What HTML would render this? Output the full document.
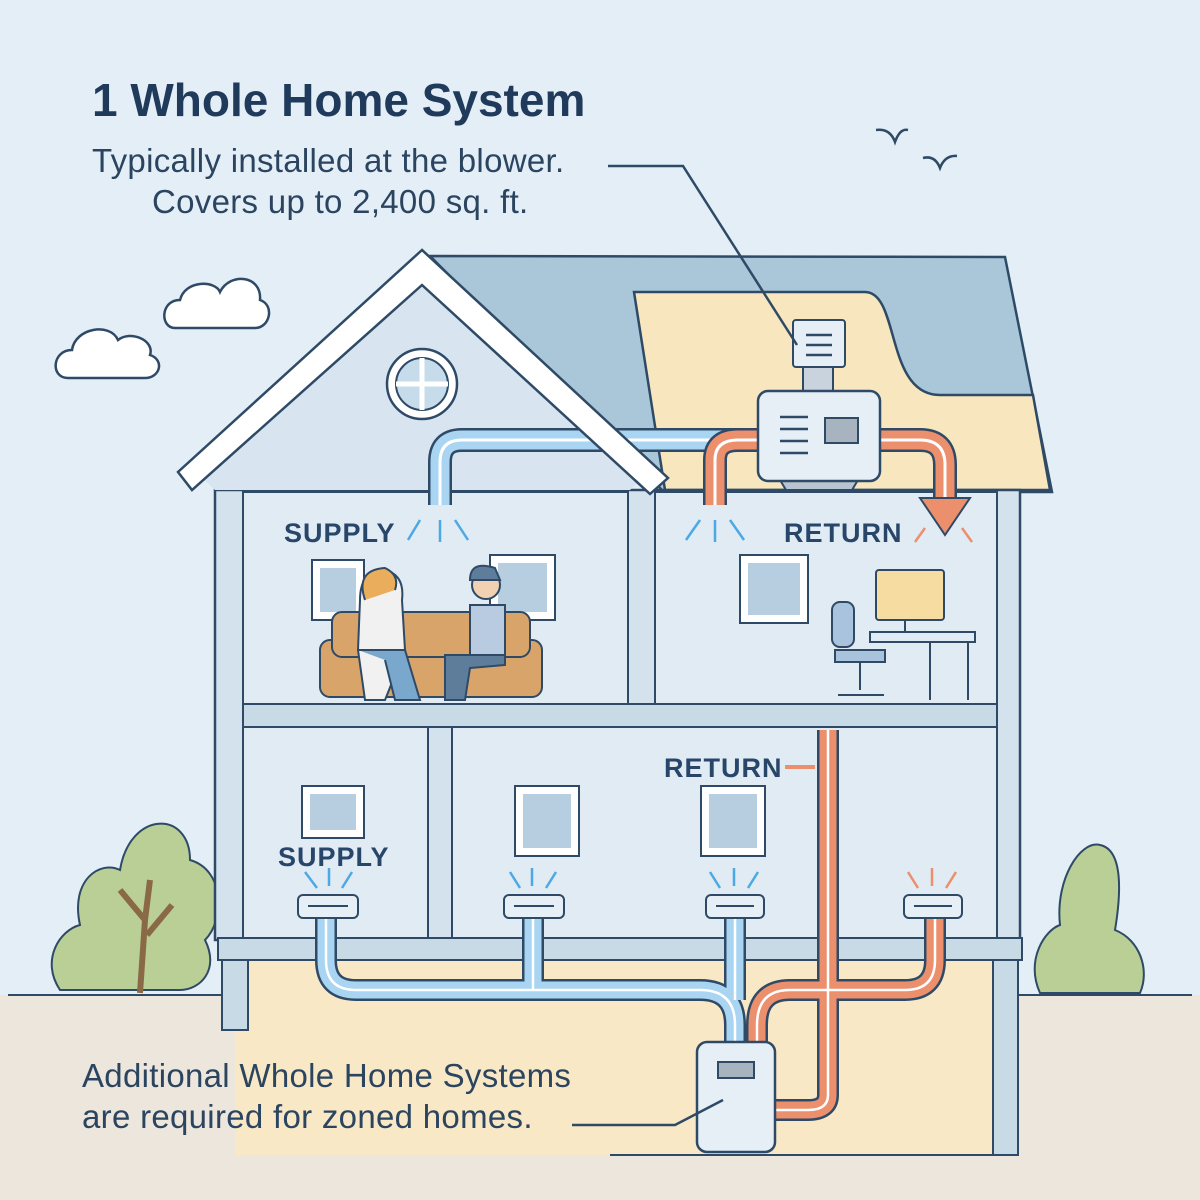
<!DOCTYPE html>
<html><head><meta charset="utf-8"><style>
html,body{margin:0;padding:0;background:#e4eef7}
svg{display:block}
text{font-family:"Liberation Sans",sans-serif}
</style></head><body>
<svg width="1200" height="1200" viewBox="0 0 1200 1200" xmlns="http://www.w3.org/2000/svg">
<rect width="1200" height="1200" fill="#e4eef7"/>
<rect y="995" width="1200" height="205" fill="#ede6dc"/>
<line x1="8" y1="995" x2="1192" y2="995" stroke="#2e4a66" stroke-width="2"/>
<rect x="235" y="960" width="770" height="195" fill="#f8e8c6"/>
<line x1="610" y1="1155" x2="1005" y2="1155" stroke="#2e4a66" stroke-width="2"/>
<g stroke="#2e4a66" stroke-width="2">
<path d="M60 990 C40 960 60 930 80 925 C70 880 100 860 120 870 C130 810 190 810 190 860 C225 870 225 920 205 940 C220 970 200 990 180 990 Z" fill="#b9cf96"/>
<path d="M140 993 L145 920 L120 890 M145 920 L150 880 M147 935 L172 905" fill="none" stroke="#8a6a46" stroke-width="6"/>
<path d="M1040 993 C1025 960 1045 930 1060 925 C1055 880 1080 840 1100 845 C1125 850 1120 900 1115 930 C1140 940 1150 970 1140 993 Z" fill="#b9cf96"/>
</g>
<g fill="#fff" stroke="#2e4a66" stroke-width="2.5">
<path d="M175 328 C160 328 160 300 180 300 C185 280 215 280 220 292 C230 272 262 275 260 300 C275 305 270 328 255 328 Z"/>
<path d="M68 378 C50 378 52 350 72 350 C75 328 110 322 118 340 C130 330 155 340 150 355 C165 360 160 378 145 378 Z"/>
</g>
<path d="M876 130 Q890 128 895 142 Q900 128 908 130 M923 158 Q935 155 940 168 Q945 155 957 156" fill="none" stroke="#2e4a66" stroke-width="2.5"/>
<polygon points="430,256 1005,257 1052,492 664,492" fill="#aac7d9" stroke="#2e4a66" stroke-width="2.5"/>
<path d="M634 292 L865 292 C900 292 885 395 940 395 L1033 395 L1050 490 L665 490 Z" fill="#f8e6bf" stroke="#2e4a66" stroke-width="2.5"/>
<rect x="215" y="490" width="805" height="450" fill="#d4e2ee" stroke="#2e4a66" stroke-width="2.5"/>
<rect x="243" y="492" width="385" height="212" fill="#e1ebf4" stroke="#2e4a66" stroke-width="2"/>
<rect x="655" y="492" width="342" height="212" fill="#e1ebf4" stroke="#2e4a66" stroke-width="2"/>
<rect x="243" y="727" width="185" height="211" fill="#e1ebf4" stroke="#2e4a66" stroke-width="2"/>
<rect x="452" y="727" width="545" height="211" fill="#e1ebf4" stroke="#2e4a66" stroke-width="2"/>
<rect x="243" y="704" width="754" height="23" fill="#c9dae7" stroke="#2e4a66" stroke-width="2"/>
<rect x="218" y="938" width="804" height="22" fill="#c9dae7" stroke="#2e4a66" stroke-width="2"/>
<rect x="222" y="960" width="26" height="70" fill="#c9dae7" stroke="#2e4a66" stroke-width="2"/>
<rect x="993" y="960" width="25" height="195" fill="#c9dae7" stroke="#2e4a66" stroke-width="2"/>
<polygon points="422,262 200,476 215,490 630,490 645,476" fill="#d8e5f0"/>
<circle cx="422" cy="384" r="35" fill="#fff" stroke="#2e4a66" stroke-width="2.5"/>
<circle cx="422" cy="384" r="26" fill="#c7dcea" stroke="#2e4a66" stroke-width="2"/>
<path d="M422 358 V410 M396 384 H448" stroke="#fff" stroke-width="5"/>
<path d="M440 505 V462 Q440 440 462 440 H760" fill="none" stroke="#2e4a66" stroke-width="24"/>
<path d="M440 505 V462 Q440 440 462 440 H760" fill="none" stroke="#a9d4f2" stroke-width="19"/>
<path d="M440 505 V462 Q440 440 462 440 H760" fill="none" stroke="#fff" stroke-width="3"/>
<polygon points="422,250 178,472 192,490 422,285 650,494 668,478" fill="#fff" stroke="#2e4a66" stroke-width="2.5"/>
<g fill="none">
<path d="M715 505 V460 Q715 440 738 440 H765 M875 440 H920 Q945 440 945 465 V500" stroke="#2e4a66" stroke-width="24"/>
<path d="M715 505 V460 Q715 440 738 440 H765 M875 440 H920 Q945 440 945 465 V500" stroke="#ec8f6c" stroke-width="19"/>
<path d="M715 505 V460 Q715 440 738 440 H765 M875 440 H920 Q945 440 945 465 V500" stroke="#fff" stroke-width="3"/>
</g>
<polygon points="920,498 970,498 945,535" fill="#ec8f6c" stroke="#2e4a66" stroke-width="2"/>
<rect x="793" y="320" width="52" height="47" rx="3" fill="#e6eef6" stroke="#2e4a66" stroke-width="2"/>
<path d="M806 335H832M806 345H832M806 355H832" stroke="#2e4a66" stroke-width="2.5"/>
<rect x="803" y="367" width="30" height="24" fill="#c8d3de" stroke="#2e4a66" stroke-width="2"/>
<path d="M780 480 H858 L852 490 H786Z" fill="#b8c4cf" stroke="#2e4a66" stroke-width="2"/>
<rect x="758" y="391" width="122" height="90" rx="10" fill="#e6eef6" stroke="#2e4a66" stroke-width="2.5"/>
<path d="M780 417H808M780 429H808M780 441H808M780 453H808" stroke="#2e4a66" stroke-width="2.5"/>
<rect x="825" y="418" width="33" height="25" fill="#a7b4c0" stroke="#2e4a66" stroke-width="2"/>
<path d="M608 166 H683 L797 345" fill="none" stroke="#2e4a66" stroke-width="2.5"/>
<g stroke="#4ba9e6" stroke-width="2.5">
<path d="M420 520 L408 540 M440 520 V542 M455 520 L468 540 M700 520 L686 540 M715 520 V542 M730 520 L744 540"/>
<path d="M317 888 L305 872 M329 886 V868 M342 888 L352 872 M520 888 L510 872 M532 886 V868 M546 888 L556 872 M720 888 L710 872 M734 886 V868 M748 888 L758 872"/>
</g>
<path d="M925 528 L915 542 M962 528 L972 542 M918 888 L908 872 M932 886 V868 M946 888 L956 872" stroke="#ec8f6c" stroke-width="2.5"/>
<g fill="#fff" stroke="#2e4a66" stroke-width="2">
<rect x="312" y="560" width="52" height="60"/><rect x="490" y="555" width="65" height="65"/>
<rect x="740" y="555" width="68" height="68"/>
<rect x="302" y="786" width="62" height="52"/><rect x="515" y="786" width="64" height="70"/><rect x="701" y="786" width="64" height="70"/>
</g>
<g fill="#b6cedf">
<rect x="320" y="568" width="36" height="44"/><rect x="498" y="563" width="49" height="49"/>
<rect x="748" y="563" width="52" height="52"/>
<rect x="310" y="794" width="46" height="36"/><rect x="523" y="794" width="48" height="54"/><rect x="709" y="794" width="48" height="54"/>
</g>
<rect x="320" y="640" width="222" height="57" rx="10" fill="#d9a46a" stroke="#2e4a66" stroke-width="2"/>
<rect x="332" y="612" width="198" height="45" rx="10" fill="#d9a46a" stroke="#2e4a66" stroke-width="2"/>
<path d="M360 600 Q360 570 385 570 Q405 575 402 600 L405 650 L385 700 L365 700 L358 650 Z" fill="#f1f1f1" stroke="#2e4a66" stroke-width="2"/>
<path d="M358 650 H405 L420 700 H395 L385 660" fill="#7aa7cc" stroke="#2e4a66" stroke-width="2"/>
<path d="M365 600 Q355 570 385 568 Q400 575 395 590" fill="#e9ad5c" stroke="#2e4a66" stroke-width="2"/>
<circle cx="486" cy="585" r="14" fill="#f2d1b3" stroke="#2e4a66" stroke-width="2"/>
<path d="M470 580 Q470 560 495 568 L500 580Z" fill="#5d7d9a" stroke="#2e4a66" stroke-width="2"/>
<path d="M470 605 H505 V655 H470Z" fill="#b9cbe0" stroke="#2e4a66" stroke-width="2"/>
<path d="M445 655 H505 V665 L470 668 L465 700 H445Z" fill="#5d7d9a" stroke="#2e4a66" stroke-width="2"/>
<rect x="876" y="570" width="68" height="50" rx="3" fill="#f6dca1" stroke="#2e4a66" stroke-width="2"/>
<path d="M905 620 V632 H895 M870 632 H975 V642 H870Z M925 642 H968 V700 M930 642 V700" fill="#e1ebf4" stroke="#2e4a66" stroke-width="2"/>
<rect x="832" y="602" width="22" height="45" rx="8" fill="#a9c3dc" stroke="#2e4a66" stroke-width="2"/>
<path d="M835 650 H885 V662 H835Z M860 662 V690 M838 695 H884" fill="#a9c3dc" stroke="#2e4a66" stroke-width="2"/>
<g fill="none">
<g stroke="#2e4a66" stroke-width="22">
<path d="M326 918 V960 Q326 990 356 990 H700 Q735 990 735 1025 V1045 M533 918 V990 M735 918 V1000"/>
<path d="M935 918 V960 Q935 990 905 990 H790 Q757 990 757 1025 V1045 M828 730 V1095 Q828 1110 808 1110 H775"/></g>
<g stroke="#a9d4f2" stroke-width="17"><path d="M326 918 V960 Q326 990 356 990 H700 Q735 990 735 1025 V1045 M533 918 V990 M735 918 V1000"/></g>
<g stroke="#ec8f6c" stroke-width="17"><path d="M935 918 V960 Q935 990 905 990 H790 Q757 990 757 1025 V1045 M828 730 V1095 Q828 1110 808 1110 H775"/></g>
<g stroke="#fff" stroke-width="2.5"><path d="M326 918 V960 Q326 990 356 990 H700 Q735 990 735 1025 V1045 M533 918 V990 M735 918 V1000 M935 918 V960 Q935 990 905 990 H790 Q757 990 757 1025 V1045 M828 730 V1095 Q828 1110 808 1110 H775"/></g>
</g>
<path d="M785 767 H815" stroke="#ec8f6c" stroke-width="4"/>
<g fill="#e6eef6" stroke="#2e4a66" stroke-width="2">
<rect x="298" y="895" width="60" height="23" rx="5"/><rect x="504" y="895" width="60" height="23" rx="5"/>
<rect x="706" y="895" width="58" height="23" rx="5"/><rect x="904" y="895" width="58" height="23" rx="5"/>
</g>
<path d="M308 906H348M514 906H554M716 906H754M914 906H952" stroke="#2e4a66" stroke-width="2"/>
<rect x="697" y="1042" width="78" height="110" rx="10" fill="#e6eef6" stroke="#2e4a66" stroke-width="2.5"/>
<rect x="718" y="1062" width="36" height="16" fill="#a7b4c0" stroke="#2e4a66" stroke-width="2"/>
<path d="M572 1125 H675 L723 1100" fill="none" stroke="#2e4a66" stroke-width="2.5"/>
<g fill="#27466a" font-weight="bold" font-size="27" letter-spacing="1">
<text x="284" y="542">SUPPLY</text><text x="784" y="542">RETURN</text>
<text x="664" y="777">RETURN</text><text x="278" y="866">SUPPLY</text>
</g>
<text x="92" y="116" font-size="46" font-weight="bold" fill="#1f3a5a">1 Whole Home System</text>
<g font-size="33" fill="#2b4560" letter-spacing="0.3">
<text x="92" y="172">Typically installed at the blower.</text>
<text x="152" y="213">Covers up to 2,400 sq. ft.</text>
<text x="82" y="1087">Additional Whole Home Systems</text>
<text x="82" y="1128">are required for zoned homes.</text>
</g>
</svg>
</body></html>
